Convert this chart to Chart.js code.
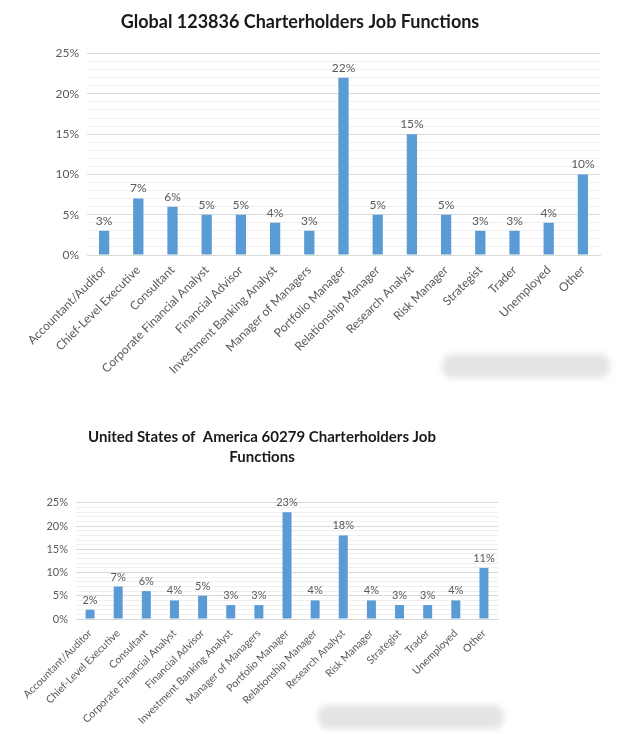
<!DOCTYPE html>
<html>
<head>
<meta charset="utf-8">
<script src="https://cdn.jsdelivr.net/npm/chart.js@4"></script>
<style>
  body { margin: 0; background: #fff; width: 618px; height: 734px; overflow: hidden; position: relative; font-family: Lato, sans-serif; }
  #topWrap { position: absolute; left: 0; top: 0; width: 618px; height: 390px; }
  #bottomWrap { position: absolute; left: 10px; top: 419px; width: 503px; height: 315px; }
  .blur { position: absolute; background: #e4e4e4; border-radius: 10px; filter: blur(3px); }
</style>
</head>
<body>
<div id="topWrap"><canvas id="globalChart" width="618" height="390"></canvas></div>
<div id="bottomWrap"><canvas id="usaChart" width="503" height="315"></canvas></div>
<div class="blur" style="left:442px;top:354px;width:168px;height:24px;"></div>
<div class="blur" style="left:318px;top:705px;width:186px;height:24px;"></div>
<script>
// Job function categories (shared by both charts)
const categories = [
  "Accountant/Auditor",
  "Chief-Level Executive",
  "Consultant",
  "Corporate Financial Analyst",
  "Financial Advisor",
  "Investment Banking Analyst",
  "Manager of Managers",
  "Portfolio Manager",
  "Relationship Manager",
  "Research Analyst",
  "Risk Manager",
  "Strategist",
  "Trader",
  "Unemployed",
  "Other",
];

// Share of charterholders, in percent
const globalValues = [3, 7, 6, 5, 5, 4, 3, 22, 5, 15, 5, 3, 3, 4, 10];
const usaValues = [2, 7, 6, 4, 5, 3, 3, 23, 4, 18, 4, 3, 3, 4, 11];

// Y axis labels (every 5%)
const yTickLabels = [0, 5, 10, 15, 20, 25];

const barColor = "#5b9bd5";
const textColor = "#595959";

// draws the value over each bar
const valueLabels = {
  id: "valueLabels",
  afterDatasetsDraw(chart, args, opts) {
    const ctx = chart.ctx;
    const meta = chart.getDatasetMeta(0);
    const data = chart.data.datasets[0].data;
    ctx.save();
    ctx.font = opts.size + "px Lato, sans-serif";
    ctx.fillStyle = textColor;
    ctx.textAlign = "center";
    ctx.textBaseline = "bottom";
    meta.data.forEach((bar, i) => {
      ctx.fillText(data[i] + "%", bar.x, bar.y - opts.offset);
    });
    ctx.restore();
  },
};

function makeChart(canvasId, values, cfg) {
  const ctx = document.getElementById(canvasId).getContext("2d");
  return new Chart(ctx, {
    type: "bar",
    data: {
      labels: categories,
      datasets: [
        {
          data: values,
          backgroundColor: barColor,
          barPercentage: 1,
          categoryPercentage: cfg.barRatio,
        },
      ],
    },
    options: {
      responsive: false,
      animation: false,
      layout: { padding: { left: cfg.padLeft, right: cfg.padRight, top: 0, bottom: 0 } },
      plugins: {
        legend: { display: false },
        tooltip: { enabled: false },
        title: {
          display: true,
          text: cfg.title,
          color: "#1a1a1a",
          font: { family: "Lato", size: cfg.titleSize, weight: "bold", lineHeight: cfg.titleLine },
          padding: cfg.titlePad,
        },
        valueLabels: { size: cfg.valueSize, offset: 4 },
      },
      scales: {
        x: {
          grid: { display: false },
          border: { color: "#d9d9d9" },
          ticks: {
            color: textColor,
            font: { family: "Lato", size: cfg.xFont },
            minRotation: 45,
            maxRotation: 45,
            autoSkip: false,
            padding: 0,
          },
          afterFit: (scale) => {
            scale.height = cfg.xHeight;
          },
        },
        y: {
          min: 0,
          max: yTickLabels[yTickLabels.length - 1],
          border: { display: false },
          grid: {
            color: (c) => (c.tick.value % 5 === 0 ? "#d9d9d9" : "#efefef"),
            drawTicks: false,
          },
          ticks: {
            stepSize: 1,
            autoSkip: false,
            color: textColor,
            font: { family: "Lato", size: cfg.yFont },
            padding: 8,
            callback: (v) => (yTickLabels.includes(v) ? v + "%" : ""),
          },
          afterFit: (scale) => {
            scale.width = cfg.yWidth;
          },
        },
      },
    },
    plugins: [valueLabels],
  });
}

makeChart("globalChart", globalValues, {
  title: "Global 123836 Charterholders Job Functions",
  titleSize: 18,
  titleLine: 1.2,
  titlePad: { top: 11, bottom: 21 },
  barRatio: 0.3,
  padLeft: 0,
  padRight: 18,
  xHeight: 135,
  yWidth: 87,
  xFont: 12,
  yFont: 12,
  valueSize: 12,
});

makeChart("usaChart", usaValues, {
  title: ["United States of  America 60279 Charterholders Job", "Functions"],
  titleSize: 15,
  titleLine: 1.33,
  titlePad: { top: 8, bottom: 36 },
  barRatio: 0.32,
  padLeft: 16,
  padRight: 15,
  xHeight: 115,
  yWidth: 50,
  xFont: 10.5,
  yFont: 11,
  valueSize: 11,
});
</script>
</body>
</html>
